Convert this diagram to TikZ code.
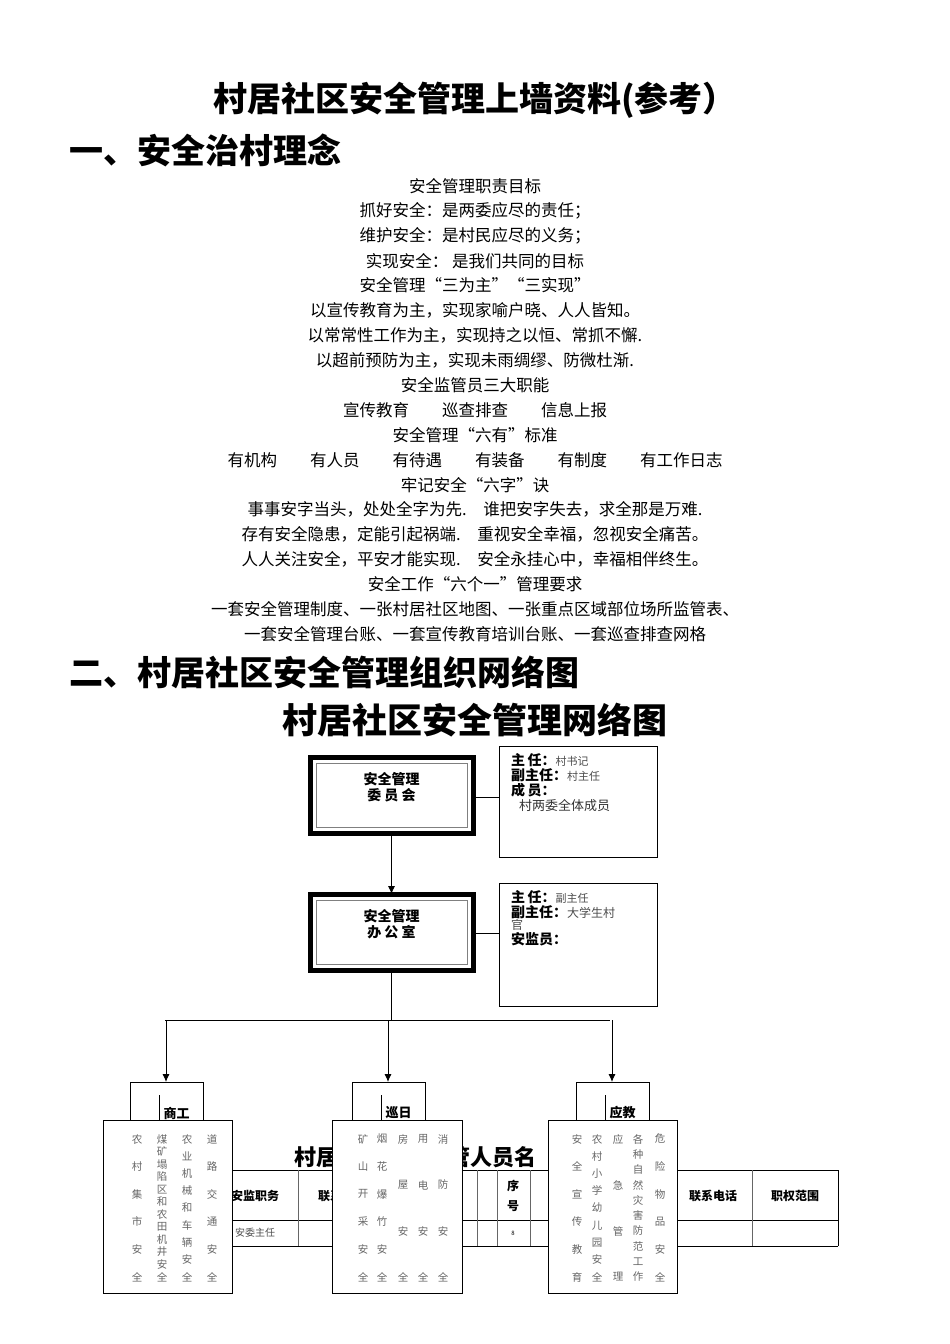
\documentclass[tikz,border=0pt]{standalone}
\usepackage{fontspec}
\usetikzlibrary{arrows.meta}
\setmainfont{Noto Sans CJK SC}
\begin{document}
\begin{tikzpicture}[x=1pt,y=-1pt,
  line/.style={line width=0.9pt},
  arr/.style={line width=0.9pt,-{Latex[length=8pt,width=7pt]}},
  box/.style={draw,line width=0.9pt,fill=white},
  tl/.style={font=\fontsize{16.5}{16.5}\selectfont,anchor=center},
  vc/.style={font=\fontsize{10.5}{10.5}\selectfont,text=black!60,anchor=center,inner sep=0},
  th/.style={font=\fontsize{12}{12}\selectfont\bfseries,anchor=center}]
\useasboundingbox (0,0) rectangle (950,1344);
\node[font=\fontsize{34}{34}\selectfont\bfseries] (t) at (475,100) {村居社区安全管理上墙资料(参考）};
\node[font=\fontsize{34}{34}\selectfont\bfseries,anchor=west] (h1) at (66,150) {一、安全治村理念};
\foreach \s [count=\i] in {安全管理职责目标,抓好安全：是两委应尽的责任；,维护安全：是村民应尽的义务；,实现安全： 是我们共同的目标,安全管理“三为主”“三实现”,以宣传教育为主，实现家喻户晓、人人皆知。,以常常性工作为主，实现持之以恒、常抓不懈.,以超前预防为主，实现未雨绸缪、防微杜渐.,安全监管员三大职能,宣传教育\quad\quad 巡查排查\quad\quad 信息上报,安全管理“六有”标准,有机构\quad\quad 有人员\quad\quad 有待遇\quad\quad 有装备\quad\quad 有制度\quad\quad 有工作日志,牢记安全“六字”诀,事事安字当头，处处全字为先.\quad 谁把安字失去，求全那是万难.,存有安全隐患，定能引起祸端.\quad 重视安全幸福，忽视安全痛苦。,人人关注安全，平安才能实现.\quad 安全永挂心中，幸福相伴终生。,安全工作“六个一”管理要求,一套安全管理制度、一张村居社区地图、一张重点区域部位场所监管表、,一套安全管理台账、一套宣传教育培训台账、一套巡查排查网格}
  \node[tl] (l\i) at (475,{186+(\i-1)*24.9}) {\s};
\node[font=\fontsize{34}{34}\selectfont\bfseries,anchor=west] (h2) at (66,672) {二、村居社区安全管理组织网络图};
\node[font=\fontsize{35}{35}\selectfont\bfseries] (h3) at (475,720) {村居社区安全管理网络图};
% table behind
\node[font=\fontsize{22}{22}\selectfont\bfseries] (tt) at (415,1157) {村居社区安全监管人员名};
\draw[line width=0.8pt] (232,1170) -- (838,1170) (232,1246) -- (838,1246) (232,1220) -- (838,1220) (838,1170) -- (838,1246);
\foreach \x in {298,477,497,530,752} \draw[line width=0.6pt,black!60] (\x,1170) -- (\x,1246);
\node[th] (c1) at (255,1196) {安监职务};
\node[th] (c2) at (330,1196) {联系};
\node[th,align=center,font=\fontsize{12}{20}\selectfont\bfseries] (c3) at (513,1196) {序\\号};
\node[th] (c4) at (713,1196) {联系电话};
\node[th] (c5) at (795,1196) {职权范围};
\node[font=\fontsize{10}{10}\selectfont,text=black!70] (c6) at (255,1233) {安委主任};
\node[font=\fontsize{6}{6}\selectfont] (c7) at (513,1233) {8};
% main boxes
\foreach \n/\y/\t in {a/757/安全管理\\委 员 会,b/894/安全管理\\办 公 室}{
  \draw[line width=5pt] (310,\y) rectangle (473,\y+76);
  \draw[line width=0.6pt,black!50] (316,\y+6) rectangle (467,\y+70);
  \node[align=center,font=\fontsize{14}{16}\selectfont\bfseries] (\n) at (391.5,\y+30) {\t};
}
\coordinate (at) at (391.5,833); \coordinate (bt) at (391.5,894);
\draw[arr] (at) -- (bt);
\draw[line width=0.8pt] (499,746) rectangle (657,857);
\draw[line width=0.8pt] (499,883) rectangle (657,1006);
\draw[line] (473,797) -- (499,797);
\draw[line] (473,933) -- (499,933);
\node[anchor=north west,align=left,inner sep=0,font=\fontsize{14}{15}\selectfont] (sa) at (511,753) {\textbf{主\,任：}{\fontsize{11}{11}\selectfont\color{black!70}村书记}\\\textbf{副主任：}{\fontsize{11}{11}\selectfont\color{black!70}村主任}\\\textbf{成\,员：}\\\hspace{8pt}{\fontsize{13}{13}\selectfont\color{black!80}村两委全体成员}};
\node[anchor=north west,align=left,inner sep=0,font=\fontsize{14}{15}\selectfont] (sb) at (511,890) {\textbf{主\,任：}{\fontsize{11}{11}\selectfont\color{black!70}副主任}\\\textbf{副主任：}{\fontsize{12}{12}\selectfont\color{black!70}大学生村}\\[-3pt]{\fontsize{12}{12}\selectfont\color{black!70}官}\\\textbf{安监员：}};
\coordinate (j) at (391.5,1020);
\draw[line] (391.5,970) -- (j);
\draw[line] (165,1020) -- (610,1020);
% small boxes
\foreach \n/\x/\t in {p/130/商工,q/352/巡日,r/576/应教}{
  \coordinate (\n t) at (\x+36,1020);
  \coordinate (\n b) at (\x+36,1082);
  \draw[arr] (\n t) -- (\n b);
  \draw[line] (\x,1120) -- (\x,1082) -- (\x+73,1082) -- (\x+73,1120);
  \node[font=\fontsize{13}{13}\selectfont\bfseries,anchor=west] (\n l) at (\x+30,1113) {\t};
  \draw[line width=0.6pt] (\x+29,1095) -- (\x+29,1125);
}
\draw[box] (103,1120) rectangle (232,1293);
\draw[box] (332,1120) rectangle (462,1293);
\draw[box] (548,1120) rectangle (677,1293);
\newcommand{\vcolumn}[3]{%
  \foreach \c [count=\i] in {#3}
    \node[vc] at (#1,{1139+(\i-1)*138/(#2-1)}) {\c};}
\vcolumn{137}{6}{农,村,集,市,安,全}
\vcolumn{162}{12}{煤,矿,塌,陷,区,和,农,田,机,井,安,全}
\vcolumn{187}{9}{农,业,机,械,和,车,辆,安,全}
\vcolumn{212}{6}{道,路,交,通,安,全}
\vcolumn{363}{6}{矿,山,开,采,安,全}
\vcolumn{382}{6}{烟,花,爆,竹,安,全}
\vcolumn{403}{4}{房,屋,安,全}
\vcolumn{423}{4}{用,电,安,全}
\vcolumn{443}{4}{消,防,安,全}
\vcolumn{577}{6}{安,全,宣,传,教,育}
\vcolumn{597}{9}{农,村,小,学,幼,儿,园,安,全}
\vcolumn{618}{4}{应,急,管,理}
\vcolumn{638}{10}{各,种,自,然,灾,害,防,范,工,作}
\vcolumn{660}{6}{危,险,物,品,安,全}
\end{tikzpicture}
\end{document}
